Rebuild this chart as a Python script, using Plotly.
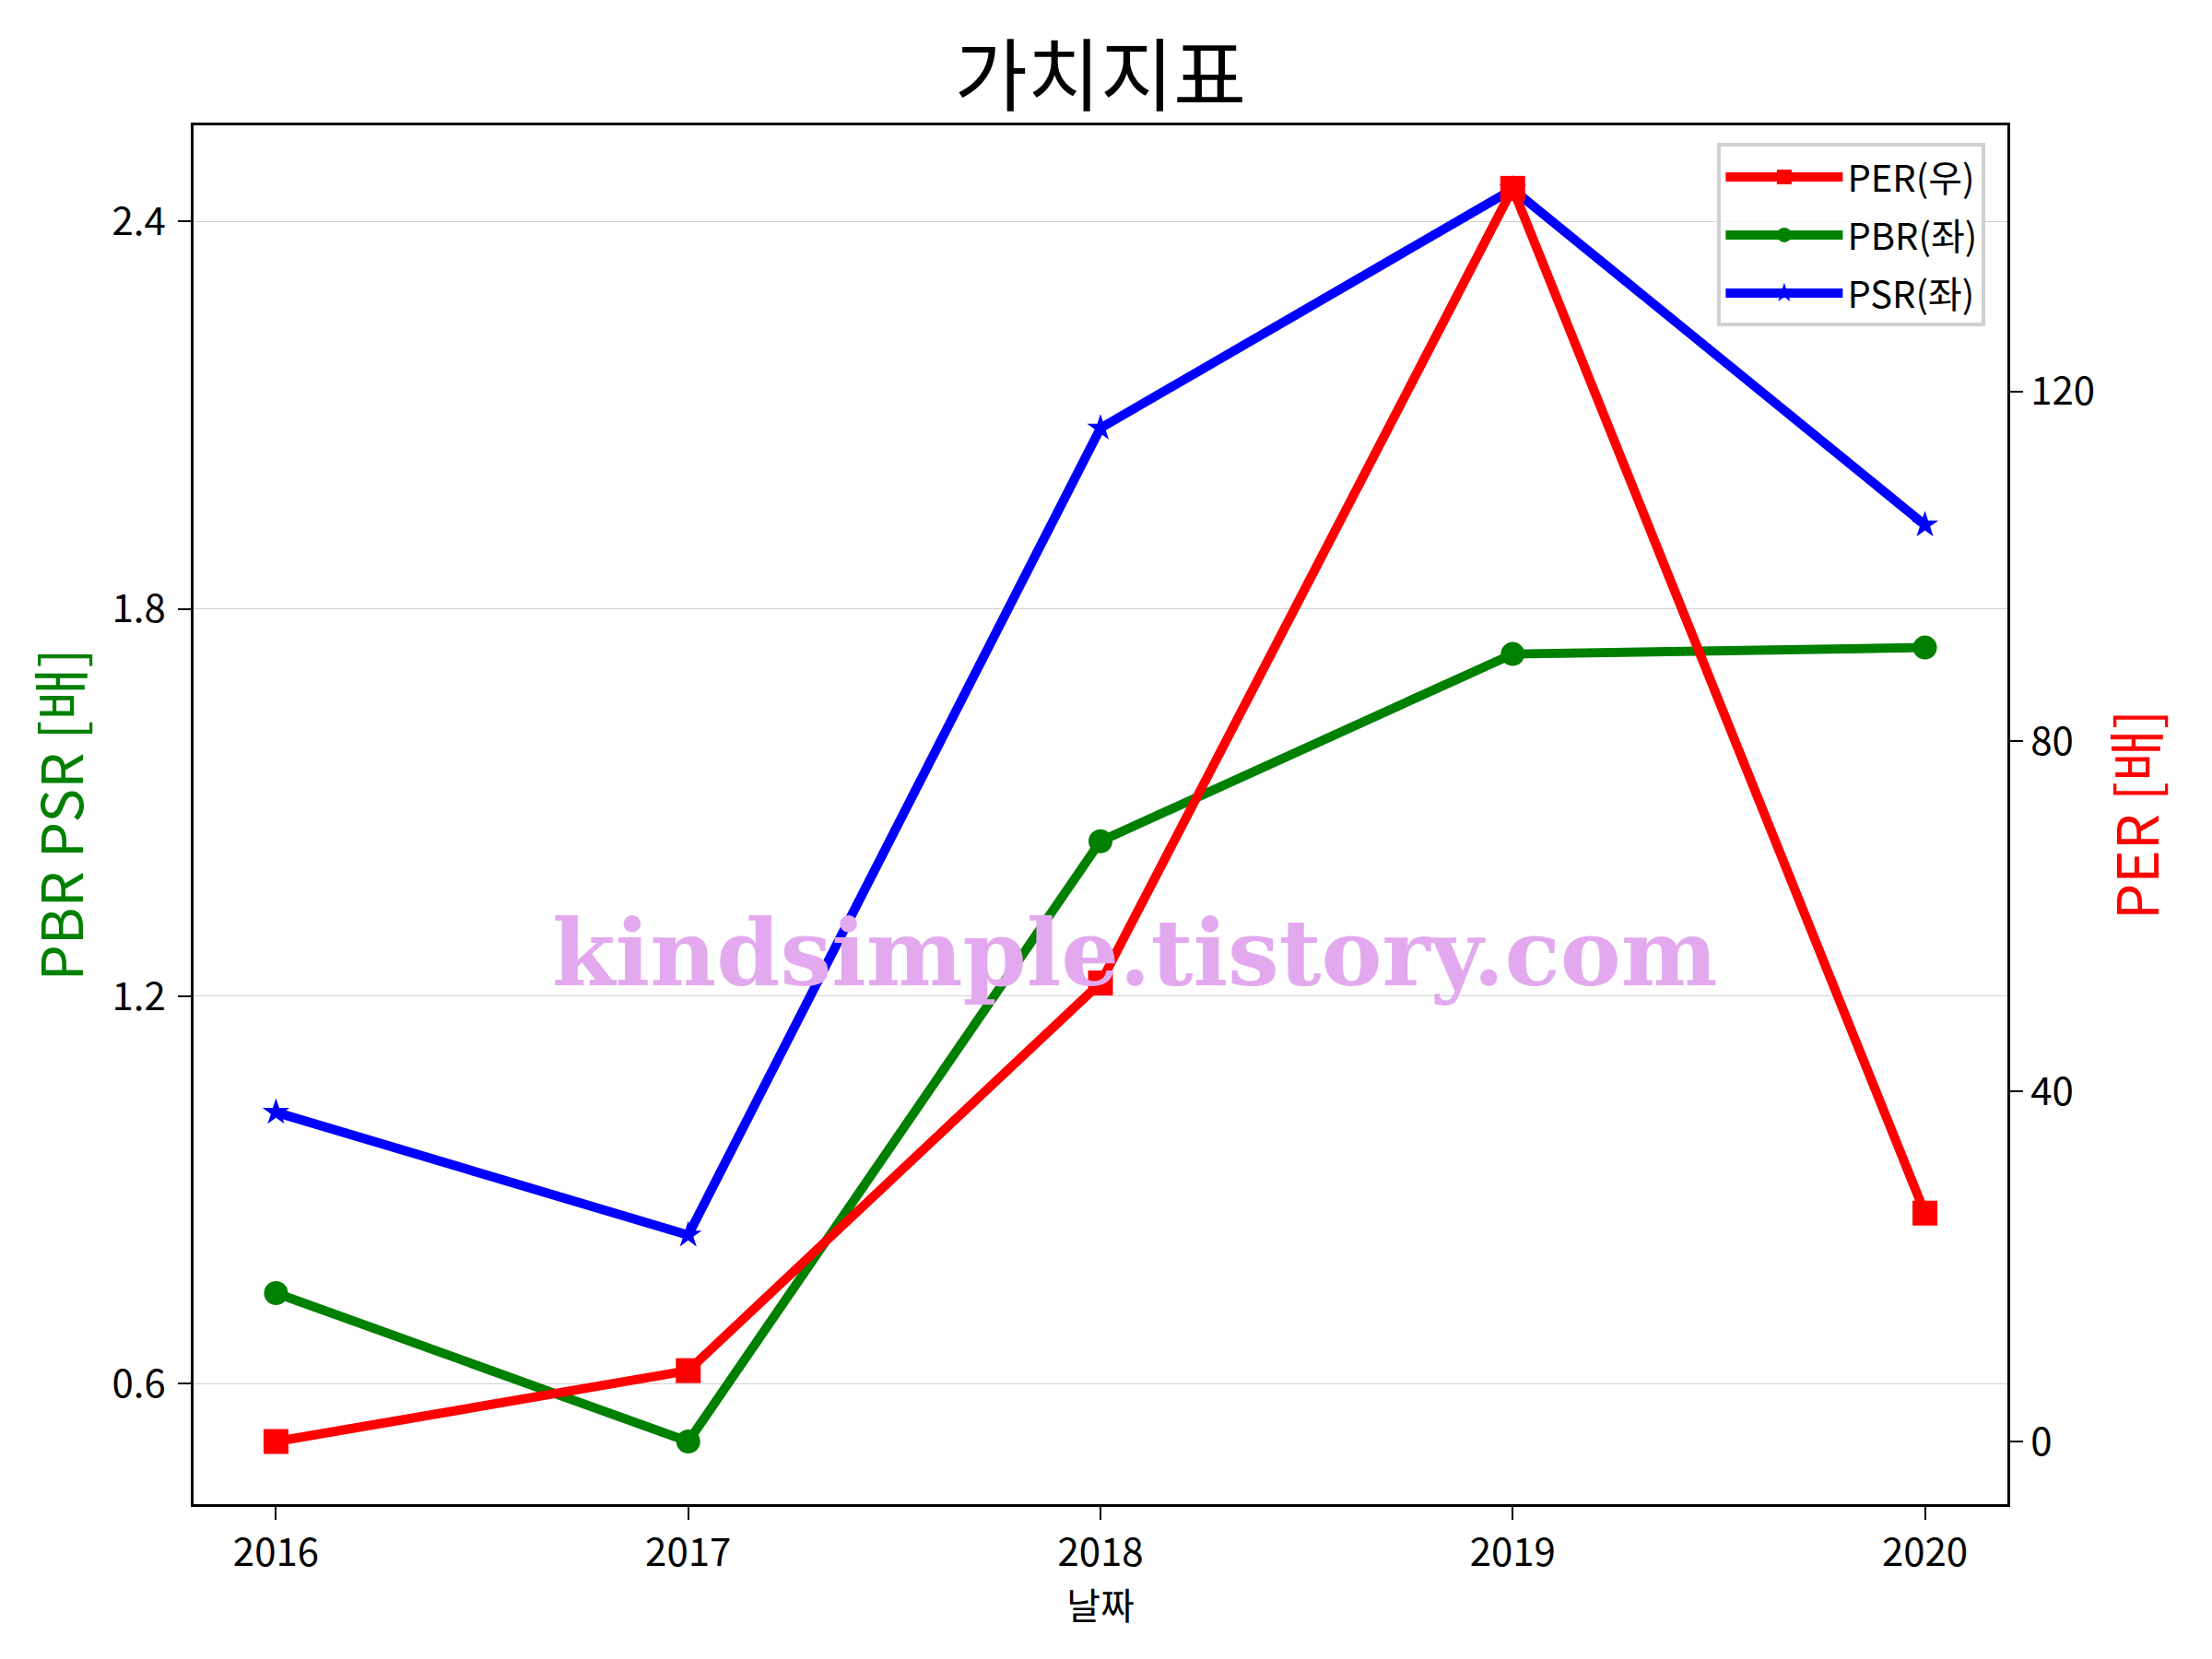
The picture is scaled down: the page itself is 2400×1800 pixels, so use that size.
import plotly.graph_objects as go

years = [2016, 2017, 2018, 2019, 2020]
per = [0.0, 8.1, 52.4, 143.2, 26.1]
pbr = [0.74, 0.51, 1.44, 1.73, 1.74]
psr = [1.02, 0.83, 2.08, 2.45, 1.93]

left_ticks = [0.6, 1.2, 1.8, 2.4]
right_ticks = [0, 40, 80, 120]

FONT = "Noto Sans CJK KR"

fig = go.Figure()

fig.add_trace(go.Scatter(x=years, y=pbr, name="PBR(좌)", mode="lines+markers",
                         line=dict(color="green", width=10),
                         marker=dict(symbol="circle", size=26, color="green"),
                         legendrank=2, legendgroup="b"))
fig.add_trace(go.Scatter(x=years, y=psr, name="PSR(좌)", mode="lines+markers",
                         line=dict(color="blue", width=10),
                         marker=dict(symbol="star", size=22, color="blue"),
                         legendrank=3, legendgroup="c"))
fig.add_trace(go.Scatter(x=years, y=per, name="PER(우)", mode="lines+markers",
                         yaxis="y2",
                         line=dict(color="red", width=10),
                         marker=dict(symbol="square", size=27, color="red"),
                         legendrank=1, legendgroup="a"))

axis_common = dict(showline=True, linecolor="black", linewidth=2.5,
                   ticks="outside", ticklen=14, tickwidth=2, tickcolor="black",
                   tickfont=dict(family=FONT, size=42, color="black"),
                   zeroline=False)

fig.update_layout(
    width=2400, height=1800,
    paper_bgcolor="white", plot_bgcolor="white",
    margin=dict(l=202, r=230, t=128, b=176),
    title=dict(text="가치지표", x=0.5, xref="paper", xanchor="center", y=0.958, yanchor="middle",
               font=dict(family=FONT, size=86, color="black")),
    xaxis=dict(range=[2015.8, 2020.2], tickvals=years, mirror=True, showgrid=False,
               title=dict(text="날짜", font=dict(family=FONT, size=40, color="black"), standoff=2),
               **axis_common),
    yaxis=dict(range=[0.413, 2.549], tickvals=left_ticks, tickformat=".1f",
               showgrid=True, gridcolor="#d0d0d0", gridwidth=1.2, ticklabelstandoff=5,
               title=dict(text="PBR PSR [배]", font=dict(family=FONT, size=62, color="green"), standoff=11),
               **axis_common),
    yaxis2=dict(range=[-7.16, 150.4], tickvals=right_ticks, overlaying="y", side="right",
                showgrid=False, ticklabelstandoff=0,
                title=dict(text="PER [배]", font=dict(family=FONT, size=62, color="red"), standoff=27),
                **axis_common),
    legend=dict(x=0.988, y=0.987, xanchor="right", yanchor="top",
                bgcolor="rgba(255,255,255,0.8)", bordercolor="#d0d0d0", borderwidth=4,
                font=dict(family=FONT, size=40, color="black"),
                itemwidth=127, tracegroupgap=8, traceorder="grouped"),
    showlegend=True,
)

fig.add_annotation(text="<b>kindsimple.tistory.com</b>", xref="paper", yref="paper",
                   x=0.519, y=0.40, showarrow=False,
                   font=dict(family="DejaVu Serif", size=99, color="#E3A9EE"))

fig.write_html("out.html")
